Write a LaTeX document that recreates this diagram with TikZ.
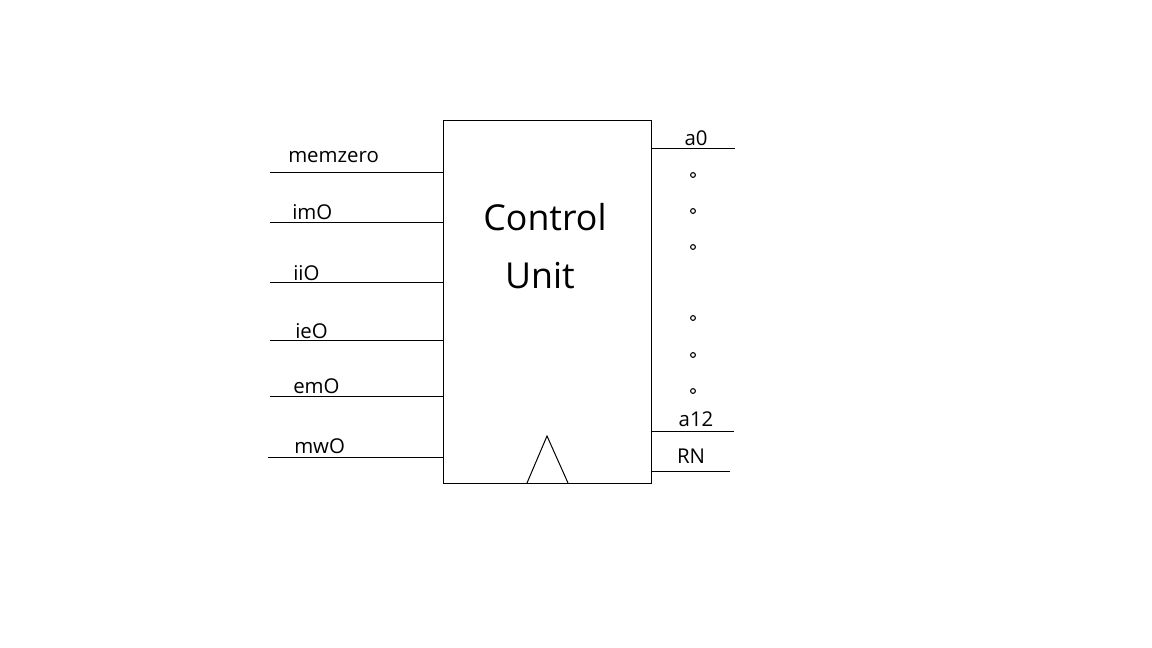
\documentclass[tikz,border=0pt]{standalone}
\usepackage{fontspec}
\setmainfont{Open Sans}
\begin{document}
\begin{tikzpicture}[x=0.75pt,y=-0.75pt,
  wire/.style={draw=black,line width=0.75pt},
  lbl/.style={font=\fontsize{15.3pt}{17pt}\selectfont,inner sep=0pt,anchor=west},
  rlbl/.style={font=\fontsize{15.3pt}{17pt}\selectfont,inner sep=0pt},
  dotc/.style={circle,draw=black,line width=0.8pt,inner sep=0pt,minimum size=3.6pt},
  big/.style={font=\fontsize{26.8pt}{30pt}\selectfont,inner sep=0pt}]
\useasboundingbox (0,0) rectangle (1152,648);
% main block
\node[draw=black,line width=0.75pt,minimum width=208*0.75pt,minimum height=362*0.75pt,inner sep=0pt] (cu) at (547,302) {};
\node[big] (t1) at (545,217) {Control};
\node[big] (t2) at (540,276) {Unit};
% clock triangle
\coordinate (tb1) at (527,483);
\coordinate (tap) at (547,436);
\coordinate (tb2) at (568,483);
\draw[wire] (tb1) -- (tap) -- (tb2);
% left inputs
\coordinate (l1a) at (270,173); \coordinate (l1b) at (443,173);
\coordinate (l2a) at (270,223); \coordinate (l2b) at (443,223);
\coordinate (l3a) at (270,283); \coordinate (l3b) at (443,283);
\coordinate (l4a) at (270,341); \coordinate (l4b) at (443,341);
\coordinate (l5a) at (270,396); \coordinate (l5b) at (443,396);
\coordinate (l6a) at (268,457); \coordinate (l6b) at (443,457);
\draw[wire] (l1a) -- (l1b);
\draw[wire] (l2a) -- (l2b);
\draw[wire] (l3a) -- (l3b);
\draw[wire] (l4a) -- (l4b);
\draw[wire] (l5a) -- (l5b);
\draw[wire] (l6a) -- (l6b);
\node[lbl] (n1) at (288,157) {memzero};
\node[lbl] (n2) at (292,212) {imO};
\node[lbl] (n3) at (293,273) {iiO};
\node[lbl] (n4) at (295,331) {ieO};
\node[lbl] (n5) at (293,386) {emO};
\node[lbl] (n6) at (294,446) {mwO};
% right outputs
\coordinate (r1a) at (651,149); \coordinate (r1b) at (735,149);
\coordinate (r2a) at (651,431); \coordinate (r2b) at (734,431);
\coordinate (r3a) at (651,471); \coordinate (r3b) at (730,471);
\draw[wire] (r1a) -- (r1b);
\draw[wire] (r2a) -- (r2b);
\draw[wire] (r3a) -- (r3b);
\node[rlbl] (o1) at (696,138) {a0};
\node[rlbl] (o2) at (696,419) {a12};
\node[rlbl] (o3) at (691,456) {RN};
% dots
\node[dotc] (d1) at (693,175) {};
\node[dotc] (d2) at (693,211) {};
\node[dotc] (d3) at (693,247) {};
\node[dotc] (d4) at (693,318) {};
\node[dotc] (d5) at (693,355) {};
\node[dotc] (d6) at (693,391) {};
\end{tikzpicture}
\end{document}
